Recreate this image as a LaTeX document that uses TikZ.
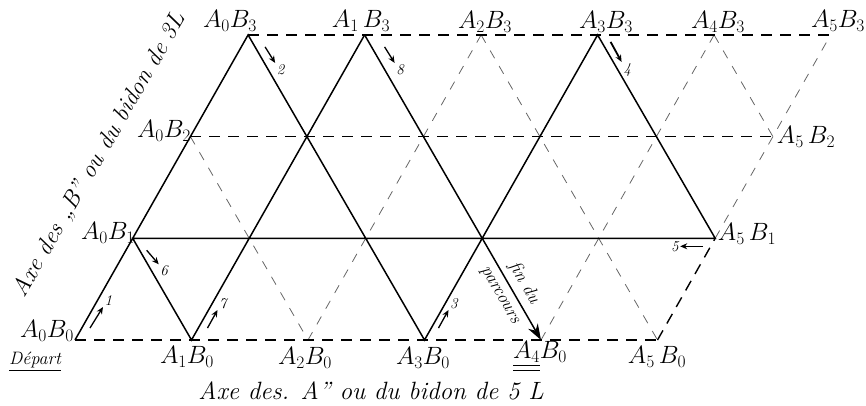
\RequirePackage{fix-cm}
\documentclass[tikz,border=0pt]{standalone}
\usepackage{amsmath}
\usepackage{tikz}
\usetikzlibrary{arrows.meta}

\tikzset{
  chemin/.style={line width=1.5pt},
  bord/.style={line width=1.4pt, dash pattern=on 11pt off 8pt},
  trame/.style={line width=0.8pt, black!60, dash pattern=on 9pt off 9pt},
  fleche/.style={line width=1.3pt, -{Stealth[length=7pt,width=6pt]}},
  sommet/.style={font=\fontsize{25}{27}\selectfont, inner sep=0pt},
  numero/.style={font=\fontsize{15}{16}\selectfont\itshape, inner sep=1pt},
  axe/.style={font=\fontsize{24}{26}\selectfont\itshape, inner sep=0pt},
  note/.style={font=\fontsize{18}{20}\selectfont\itshape, inner sep=0pt},
}

\begin{document}
\begin{tikzpicture}[x=1pt,y=-1pt]
\useasboundingbox (0,0) rectangle (866,405);
% points du reseau A_a B_b
\foreach \a in {0,...,5}
  \foreach \b in {0,...,3}
    \coordinate (p\a\b) at ({75+116.5*\a+57.7*\b},{340-101.7*\b});

% trame en pointilles
\draw[trame] (p02) -- (p20);
\draw[trame] (p20) -- (p23);
\draw[trame] (p23) -- (p50);
\draw[trame] (p40) -- (p43);
\draw[trame] (p43) -- (p52);
\draw[trame] (p51) -- (p53);
% bords
\draw[bord] (p00) -- (p50);
\draw[bord] (p03) -- (p53);
\draw[bord] (p02) -- (p52);
\draw[bord] (p50) -- (p51);
% parcours
\draw[chemin] (p00) -- (p03) -- (p30) -- (p33) -- (p51) -- (p01) -- (p10) -- (p13);
\draw[chemin,-{Stealth[length=16pt,width=11pt]}] (p13) -- (p40);

% etapes
\draw[fleche] ([shift={(15,-12)}]p00) -- ++(13,-21) node[numero,anchor=south west] (n1) {1};
\draw[fleche] ([shift={(17,12)}]p03) -- ++(10,16) node[numero,anchor=north west] (n2) {2};
\draw[fleche] ([shift={(14,-12)}]p30) -- ++(10,-18) node[numero,anchor=south west] (n3) {3};
\draw[fleche,line width=1.8pt] ([shift={(13,7)}]p33) -- ++(11,20) node[numero,anchor=north west] (n4) {4};
\draw[fleche] ([shift={(-12,8)}]p51) -- ++(-23,0) node[numero,anchor=east] (n5) {5};
\draw[fleche] ([shift={(14,12)}]p01) -- ++(12,14) node[numero,anchor=north west] (n6) {6};
\draw[fleche] ([shift={(16,-12)}]p10) -- ++(10,-18) node[numero,anchor=south west] (n7) {7};
\draw[fleche] ([shift={(20,12)}]p13) -- ++(10,16) node[numero,anchor=north west] (n8) {8};

% noms des sommets
\node[sommet] (t03) at (230,21) {$A_0B_3$};
\node[sommet] (t13) at (361,21) {$A_1\,B_3$};
\node[sommet] (t23) at (485,22) {$A_2B_3$};
\node[sommet] (t33) at (606,22) {$A_3B_3$};
\node[sommet] (t43) at (718,22) {$A_4B_3$};
\node[sommet] (t53) at (838,21) {$A_5B_3$};
\node[sommet] (t52) at (806,137) {$A_5\,B_2$};
\node[sommet] (t51) at (747,234) {$A_5\,B_1$};
\node[sommet] (t02) at (164,131) {$A_0B_2$};
\node[sommet] (t01) at (108,233) {$A_0B_1$};
\node[sommet] (t00) at (47,331) {$A_0B_0$};
\node[sommet] (t10) at (187,357) {$A_1B_0$};
\node[sommet] (t20) at (305,358) {$A_2B_0$};
\node[sommet] (t30) at (423,358) {$A_3B_0$};
\node[sommet] (t40) at (540,357) {$\underline{\underline{A_4}}B_0$};
\node[sommet] (t50) at (657,357) {$A_5\,B_0$};
\node[note] (depart) at (35,362) {\underline{Départ}};

% axes
\node[axe,font=\fontsize{25}{27}\selectfont\itshape] (axeA) at (371,391) {Axe des. A'' ou du bidon de 5 L};
\node[axe,rotate=60] (axeB) at (100,155) {Axe des „B'' ou du bidon de 3L};
\node[note,rotate=-60] (fin) at (524,283) {fin du};
\node[note,rotate=-60] (parcours) at (499,296) {parcours};
\end{tikzpicture}
\end{document}
